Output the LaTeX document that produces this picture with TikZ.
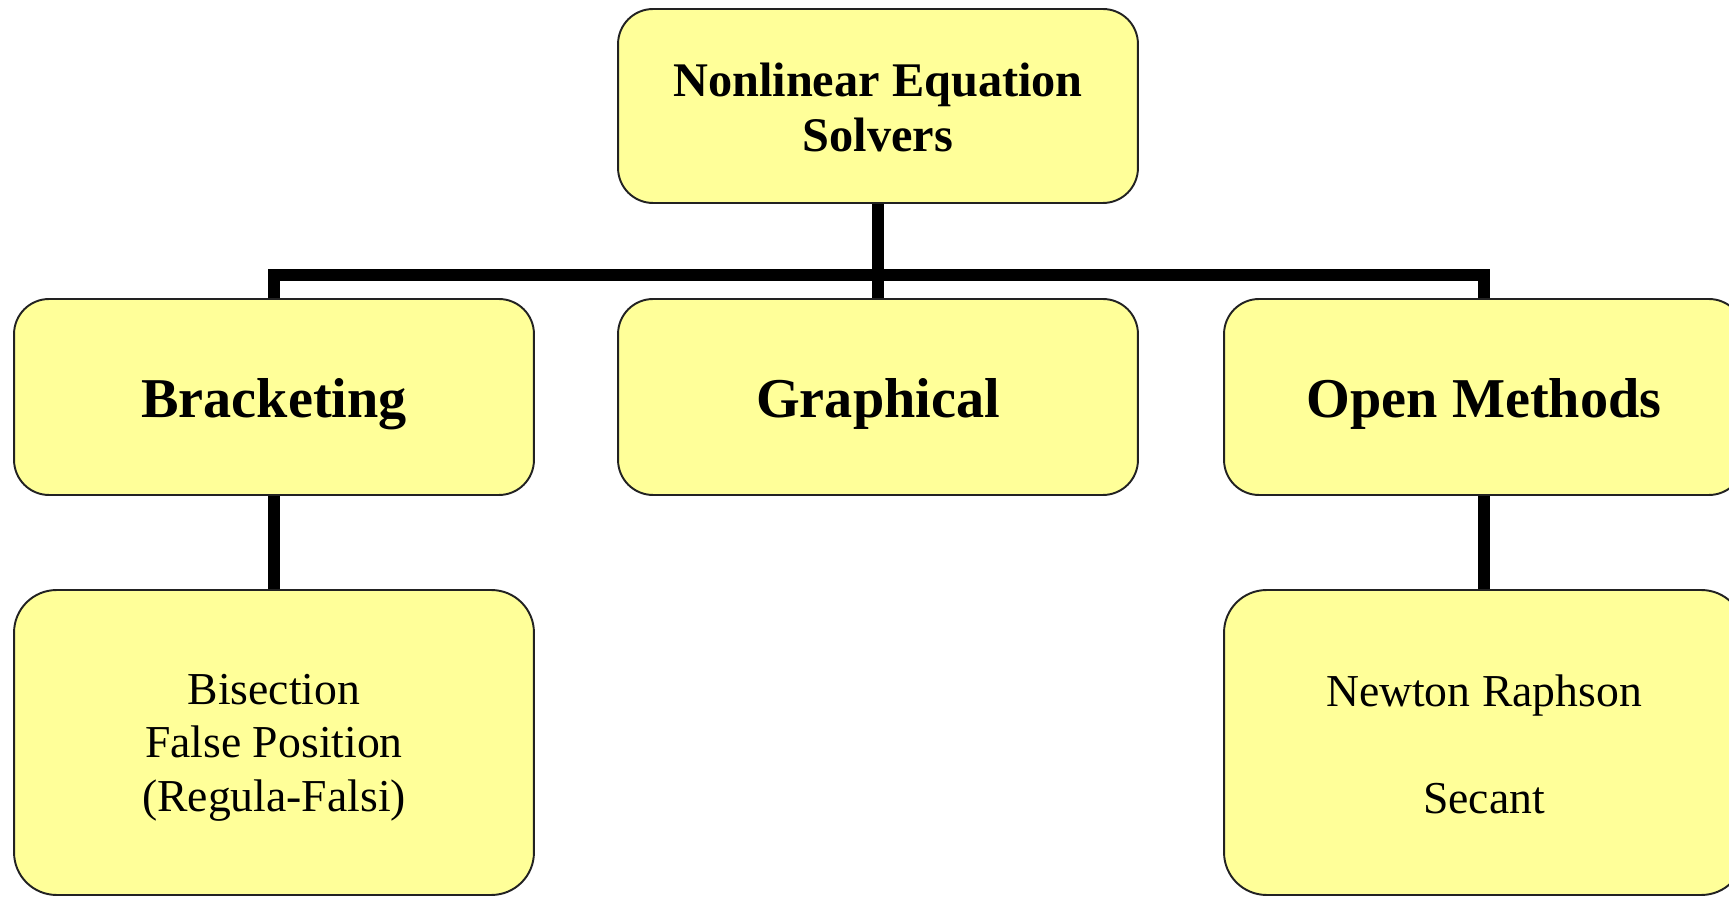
\documentclass[tikz,border=0pt]{standalone}
\usepackage{fontspec}
\setmainfont{Liberation Serif}
\definecolor{boxfill}{HTML}{FFFF99}
\definecolor{boxline}{HTML}{222222}
\newcommand\lowertxt[2]{\raisebox{-#1}[\height][\depth]{#2}}
\begin{document}
\begin{tikzpicture}[x=0.02cm,y=-0.02cm,
  box/.style={draw=boxline,line width=1.1pt,fill=boxfill,rounded corners=0.7cm,
    minimum width=10.4cm,align=center,inner sep=0pt},
  midbox/.style={box,minimum height=3.92cm},
  lowbox/.style={box,minimum height=6.1cm,rounded corners=0.85cm},
  conn/.style={line width=7.2pt,draw=black,line join=miter}]
\clip (0,0) rectangle (1729,898);
\fill[white] (0,0) rectangle (1729,898);
\node[box,minimum height=3.88cm,font=\fontsize{27.5}{31.5}\selectfont\bfseries] (top) at (878,106) {\lowertxt{1pt}{Nonlinear Equation}\\\lowertxt{1pt}{Solvers}};
\node[midbox,font=\fontsize{32}{36}\selectfont\bfseries] (brk) at (274,397) {\lowertxt{4.2pt}{Bracketing}};
\node[midbox,font=\fontsize{32}{36}\selectfont\bfseries] (gra) at (878,397) {\lowertxt{4.2pt}{Graphical}};
\node[midbox,font=\fontsize{32}{36}\selectfont\bfseries] (opn) at (1484,397) {\lowertxt{4.2pt}{Open Methods}};
\node[lowbox,font=\fontsize{26}{30.6}\selectfont] (bis) at (274,742.5) {\lowertxt{3pt}{Bisection}\\\lowertxt{3pt}{False Position}\\\lowertxt{3pt}{(Regula-Falsi)}};
\node[lowbox,font=\fontsize{26}{30.6}\selectfont] (nr) at (1484,742.5) {\lowertxt{1pt}{Newton Raphson}\\[30.6pt]\lowertxt{1pt}{Secant}};
\coordinate (bar) at (878,275);
\draw[conn] (top.south) -- (bar);
\draw[conn] (brk.north) |- (bar) -| (opn.north);
\draw[conn] (bar) -- (gra.north);
\draw[conn] (brk.south) -- (bis.north);
\draw[conn] (opn.south) -- (nr.north);
\end{tikzpicture}
\end{document}
